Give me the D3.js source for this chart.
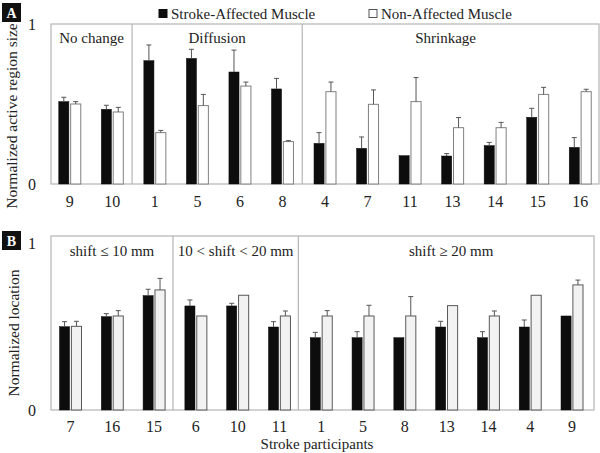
<!DOCTYPE html>
<html><head><meta charset="utf-8">
<script src="https://cdn.jsdelivr.net/npm/d3@7"></script>
<style>body{margin:0;background:#fff}svg{display:block}text{font-family:"Liberation Serif",serif}</style>
</head><body><svg id="c" width="600" height="453" font-family="Liberation Serif"></svg>
<script>
// ---- Data ----
const seriesNames = ["Stroke-Affected Muscle", "Non-Affected Muscle"];

const catsA = ["9","10","1","5","6","8","4","7","11","13","14","15","16"];
const affA = [0.515,0.467,0.771,0.785,0.700,0.594,0.254,0.223,0.177,0.175,0.240,0.417,0.229];
const affErrA = [0.027,0.025,0.098,0.057,0.137,0.066,0.067,0.071,0,0.015,0.020,0.056,0.061];
const nonA = [0.500,0.450,0.321,0.490,0.612,0.265,0.577,0.498,0.515,0.352,0.352,0.560,0.577];
const nonErrA = [0.015,0.029,0.014,0.070,0.025,0.006,0.060,0.090,0.150,0.063,0.033,0.044,0.015];
const groupsA = ["No change","Diffusion","Shrinkage"];
const groupSizesA = [2,4,7];

const catsB = ["7","16","15","6","10","11","1","5","8","13","14","4","9"];
const affB = [0.499,0.559,0.685,0.623,0.623,0.497,0.433,0.433,0.433,0.497,0.433,0.497,0.563];
const affErrB = [0.030,0.018,0.038,0.036,0.016,0.032,0.032,0.036,0,0.034,0.036,0.042,0];
const nonB = [0.501,0.563,0.719,0.563,0.687,0.563,0.563,0.563,0.563,0.625,0.563,0.687,0.749];
const nonErrB = [0.030,0.032,0.069,0,0,0.030,0.032,0.064,0.116,0,0.030,0,0.029];
const groupsB = ["shift \u2264 10 mm","10 < shift < 20 mm","shift \u2265 20 mm"];
const groupSizesB = [3,3,7];

const yTicks = [0,1];
const FONT = "Liberation Serif";

const svg = d3.select("#c");

function txt(sel){ return sel.attr("font-family",FONT).style("font-family",FONT); }

function panel(o){
  const g = svg.append("g");
  const x = d3.scaleBand().domain(o.cats).range(o.xRange).padding(0);
  const sub = d3.scaleBand().domain([0,1]).range([-11,11]).paddingInner(0.15);
  const y = d3.scaleLinear().domain([0,1]).range(o.yRange);
  g.append("rect").attr("x",o.box[0]).attr("y",o.box[1])
    .attr("width",o.box[2]-o.box[0]).attr("height",o.box[3]-o.box[1])
    .attr("fill","none").attr("stroke","#b5b5b5").attr("stroke-width",1.2);
  let idx = 0; const starts=[];
  o.sizes.forEach((s)=>{ starts.push(idx); idx+=s; });
  starts.forEach((st,i)=>{
    const left = i===0 ? o.box[0] : x(o.cats[st]) - o.divShift;
    const right = i===starts.length-1 ? o.box[2] : x(o.cats[starts[i+1]]) - o.divShift;
    if(i>0) g.append("line").attr("x1",left).attr("x2",left).attr("y1",o.box[1]).attr("y2",o.box[3])
      .attr("stroke","#b5b5b5").attr("stroke-width",1.2);
    txt(g.append("text")).attr("x",(left+right)/2 + (o.groupDx[i]||0)).attr("y",o.groupY)
      .attr("text-anchor","middle").attr("dominant-baseline","central")
      .attr("font-size",15).attr("fill","#222").text(o.groups[i]);
  });
  const sets = [{v:o.aff,e:o.affErr,fill:"#0d0d0d",stroke:"#0d0d0d"},
                {v:o.non,e:o.nonErr,fill:o.whiteFill,stroke:o.whiteStroke}];
  sets.forEach((s,si)=>{
    const cx = c => x(c)+x.bandwidth()/2 + sub(si);
    g.selectAll(null).data(o.cats).enter().append("rect")
      .attr("x",c=>cx(c)).attr("width",sub.bandwidth())
      .attr("y",(c,i)=>y(s.v[i])).attr("height",(c,i)=>y(0)-y(s.v[i]))
      .attr("fill",s.fill).attr("stroke",s.stroke).attr("stroke-width",si?1:0.5);
    const eg = g.selectAll(null).data(o.cats.map((c,i)=>({c,i})).filter(d=>s.e[d.i]>0)).enter().append("g");
    eg.append("line").attr("x1",d=>cx(d.c)+sub.bandwidth()/2).attr("x2",d=>cx(d.c)+sub.bandwidth()/2)
      .attr("y1",d=>y(s.v[d.i])).attr("y2",d=>y(s.v[d.i]+s.e[d.i])).attr("stroke","#555").attr("stroke-width",1);
    eg.append("line").attr("x1",d=>cx(d.c)+sub.bandwidth()/2-2.5).attr("x2",d=>cx(d.c)+sub.bandwidth()/2+2.5)
      .attr("y1",d=>y(s.v[d.i]+s.e[d.i])).attr("y2",d=>y(s.v[d.i]+s.e[d.i])).attr("stroke","#555").attr("stroke-width",1);
  });
  const xa = g.append("g").attr("transform",`translate(0,${o.box[3]})`)
    .call(d3.axisBottom(x).tickSize(0).tickPadding(o.xPad));
  xa.attr("font-family",FONT);
  xa.select(".domain").remove();
  txt(xa.selectAll("text")).attr("font-size",16).attr("fill","#222");
  const ya = g.append("g").attr("transform",`translate(${o.box[0]},0)`)
    .call(d3.axisLeft(y).tickValues(yTicks).tickFormat(d3.format("d")).tickSize(0).tickPadding(15));
  ya.attr("font-family",FONT);
  ya.select(".domain").remove();
  txt(ya.selectAll("text")).attr("font-size",16).attr("fill","#222");
  txt(g.append("text")).attr("transform",`translate(${o.titleX},${o.titleY}) rotate(-90)`)
    .attr("text-anchor","middle").attr("dominant-baseline","central")
    .attr("font-size",15.5).attr("fill","#222").text(o.title);
  g.append("rect").attr("x",o.tag[0]).attr("y",o.tag[1]).attr("width",19).attr("height",19).attr("fill","#111");
  txt(g.append("text")).attr("x",o.tag[0]+9.5).attr("y",o.tag[1]+10).attr("text-anchor","middle")
    .attr("dominant-baseline","central").attr("font-weight","bold").attr("font-size",14)
    .attr("fill","#fff").text(o.tagText);
}

panel({cats:catsA,aff:affA,affErr:affErrA,non:nonA,nonErr:nonErrA,groups:groupsA,sizes:groupSizesA,
  xRange:[48.5,601.5],yRange:[184,24],box:[51,24,599,184],divShift:1.5,groupY:38,groupDx:[0,0,-5],
  whiteFill:"#ffffff",whiteStroke:"#808080",xPad:12,title:"Normalized active region size",titleX:11,titleY:116,
  tag:[2,3],tagText:"A"});
panel({cats:catsB,aff:affB,affErr:affErrB,non:nonB,nonErr:nonErrB,groups:groupsB,sizes:groupSizesB,
  xRange:[49.6,592.9],yRange:[410,243],box:[51,236,594,410],divShift:2,groupY:251,groupDx:[0,0,5],
  whiteFill:"#f2f2f2",whiteStroke:"#595959",xPad:11,title:"Normalized location",titleX:13,titleY:333,
  tag:[2,231],tagText:"B"});

const leg = svg.append("g");
const legX = [159,369];
seriesNames.forEach((n,i)=>{
  leg.append("rect").attr("x",legX[i]).attr("y",9.5).attr("width",8).attr("height",8)
    .attr("fill",i?"#fff":"#0d0d0d").attr("stroke",i?"#555":"#0d0d0d").attr("stroke-width",1);
  txt(leg.append("text")).attr("x",legX[i]+12).attr("y",13.5).attr("dominant-baseline","central")
    .attr("font-size",15).attr("fill","#222").text(n);
});
txt(svg.append("text")).attr("x",317).attr("y",444).attr("text-anchor","middle").attr("dominant-baseline","central")
  .attr("font-size",15).attr("fill","#222").text("Stroke participants");
</script></body></html>
